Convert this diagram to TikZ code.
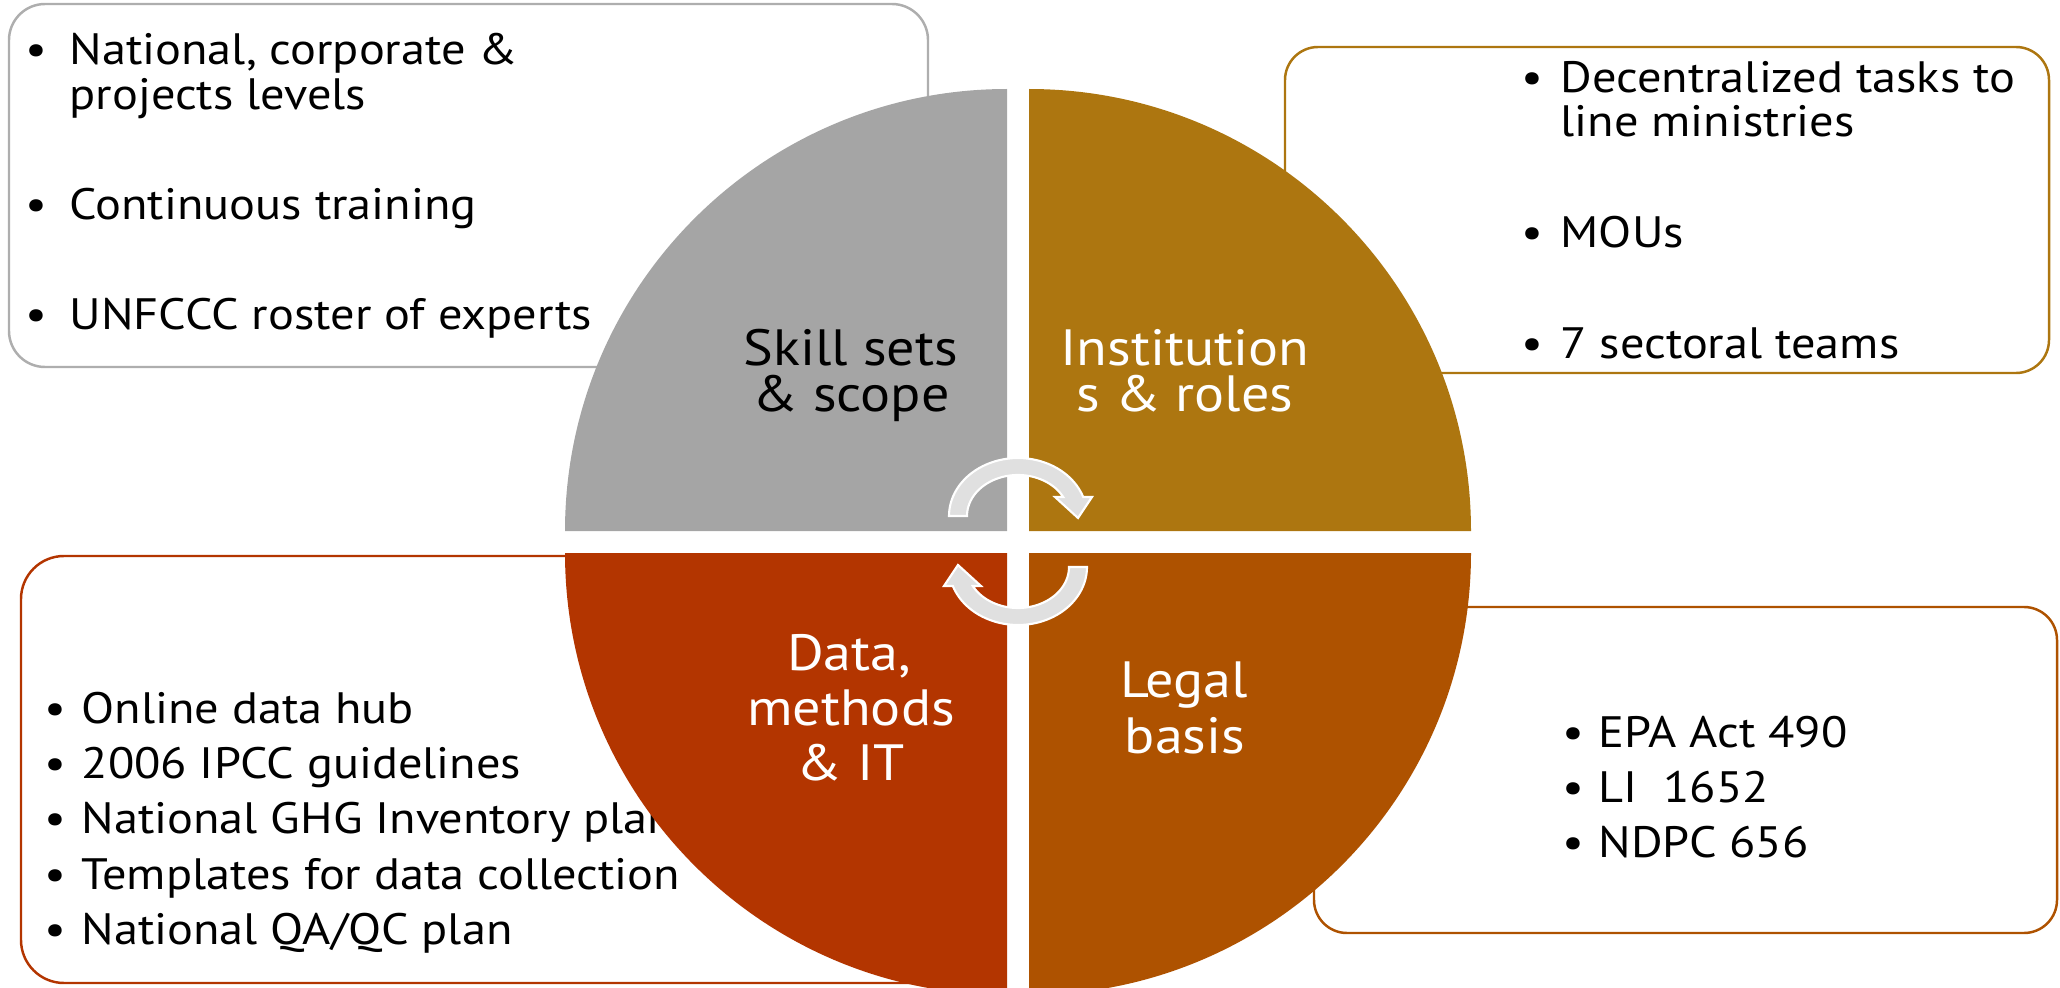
\documentclass[tikz,border=0pt]{standalone}
\usepackage{fontspec}
\setmainfont{PT Sans}[FakeStretch=1.1]
\definecolor{qgray}{HTML}{A5A5A5}
\definecolor{qgold}{HTML}{AD7610}
\definecolor{qrust}{HTML}{B33500}
\definecolor{qamber}{HTML}{AE5200}
\definecolor{arrowfill}{HTML}{E0E0E0}
\begin{document}
\begin{tikzpicture}[x=0.01cm,y=-0.01cm,
  box/.style={fill=white, line width=0.7pt},
  body/.style={anchor=base west, inner sep=0pt, font=\fontsize{12.5pt}{15pt}\selectfont},
  bul/.style={anchor=base, inner sep=0pt, font=\fontsize{12.5pt}{15pt}\selectfont},
  label/.style={anchor=base, inner sep=0pt, font=\fontsize{14.5pt}{17pt}\selectfont},
  cyc/.style={fill=arrowfill, draw=white, line width=0.6pt, line join=miter}]
\useasboundingbox (0,0) rectangle (2060,988);

% text boxes behind the pie
\draw[box, draw=qgray!90, rounded corners=0.36cm] (9,4) rectangle (928,367);
\draw[box, draw=qgold, rounded corners=0.33cm] (1285,47) rectangle (2049,373);
\draw[box, draw=qrust, rounded corners=0.43cm] (21,556) rectangle (960,983);
\draw[box, draw=qamber, rounded corners=0.33cm] (1314,607) rectangle (2057,933);

% top-left list
\node[bul] (b1) at (36,65) {•};
\node[body] (t1a) at (69,65) {National, corporate \&};
\node[body] (t1b) at (69,110) {projects levels};
\node[bul] (b2) at (36,220) {•};
\node[body] (t2) at (69,220) {Continuous training};
\node[bul] (b3) at (36,330) {•};
\node[body] (t3) at (69,330) {UNFCCC roster of experts};

% top-right list
\node[bul] (b4) at (1532,93) {•};
\node[body] (t4a) at (1560,93) {Decentralized tasks to};
\node[body] (t4b) at (1560,137) {line ministries};
\node[bul] (b5) at (1532,248) {•};
\node[body] (t5) at (1560,248) {MOUs};
\node[bul] (b6) at (1532,358) {•};
\node[body] (t6) at (1560,358) {7 sectoral teams};

% bottom-left list
\node[bul] (b7) at (55,723) {•};
\node[body] (t7) at (81,723) {Online data hub};
\node[bul] (b8) at (55,778) {•};
\node[body] (t8) at (81,778) {2006 IPCC guidelines};
\node[bul] (b9) at (55,833) {•};
\node[body] (t9) at (81,833) {National GHG Inventory plan};
\node[bul] (b10) at (55,889) {•};
\node[body] (t10) at (81,889) {Templates for data collection};
\node[bul] (b11) at (55,944) {•};
\node[body] (t11) at (81,944) {National QA/QC plan};

% bottom-right list
\node[bul] (b12) at (1573,747) {•};
\node[body] (t12) at (1598,747) {EPA Act 490};
\node[bul] (b13) at (1573,802) {•};
\node[body] (t13) at (1598,802) {LI~~1652};
\node[bul] (b14) at (1573,857) {•};
\node[body] (t14) at (1598,857) {NDPC 656};

% four quarter pies
\fill[qgray] (1007,531) -- (565,531) arc[start angle=180, end angle=270, radius=442] -- cycle;
\fill[qgold] (1029,531) -- (1029,89) arc[start angle=270, end angle=360, radius=442] -- cycle;
\fill[qamber] (1029,553) -- (1471,553) arc[start angle=0, end angle=90, radius=442] -- cycle;
\fill[qrust] (1007,553) -- (1007,995) arc[start angle=90, end angle=180, radius=442] -- cycle;

% circular arrows in the centre
\path[cyc] (967,516) -- (949,516)
  -- plot[domain=180:340.9, samples=50] ({1018+69*cos(\x)},{516+58*sin(\x)})
  -- (1092,497) -- (1078,518) -- (1055,497) -- (1063,497)
  -- plot[domain=332.4:180, samples=50] ({1018+51*cos(\x)},{516+41*sin(\x)})
  -- cycle;
\begin{scope}[rotate around={180:(1018,541.5)}]
\path[cyc] (967,516) -- (949,516)
  -- plot[domain=180:340.9, samples=50] ({1018+69*cos(\x)},{516+58*sin(\x)})
  -- (1092,497) -- (1078,518) -- (1055,497) -- (1063,497)
  -- plot[domain=332.4:180, samples=50] ({1018+51*cos(\x)},{516+41*sin(\x)})
  -- cycle;
\end{scope}

% quadrant labels
\node[label] (l1a) at (851,365) {Skill sets};
\node[label] (l1b) at (851,412) {\& scope};
\node[label, text=white] (l2a) at (1185,365) {Institution};
\node[label, text=white] (l2b) at (1185,412) {s \& roles};
\node[label, text=white] (l3a) at (849,670) {Data,};
\node[label, text=white] (l3b) at (851,725) {methods};
\node[label, text=white] (l3c) at (851,780) {\& IT};
\node[label, text=white] (l4a) at (1184,697) {Legal};
\node[label, text=white] (l4b) at (1185,753) {basis};
\end{tikzpicture}
\end{document}
